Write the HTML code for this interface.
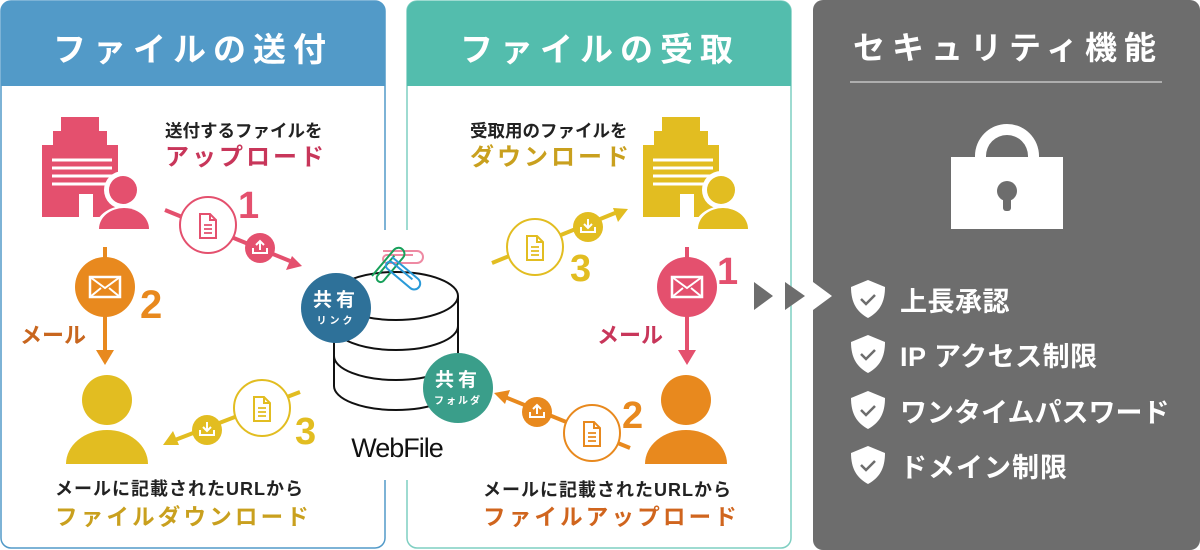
<!DOCTYPE html>
<html><head><meta charset="utf-8"><style>
html,body{margin:0;padding:0;background:#fff;}
svg{display:block;}
text{font-family:"Liberation Sans","Noto Sans CJK JP",sans-serif;font-weight:bold;}
</style></head><body>
<svg width="1200" height="550" viewBox="0 0 1200 550" xmlns="http://www.w3.org/2000/svg">
<defs>
<g id="doc"><path d="M-8,-12 h10 l6,6 v18 h-16 z" fill="none" stroke-width="2"/><path d="M2,-12 v6 h6" fill="none" stroke-width="2"/><path d="M-4,-1 h8 M-4,3 h8 M-4,7 h8" stroke-width="1.8"/></g>
<g id="up"><path d="M-7,0 v5 h14 v-5" fill="none" stroke="#fff" stroke-width="2"/><path d="M0,2 v-9 M-4,-3 l4,-4 l4,4" fill="none" stroke="#fff" stroke-width="2"/></g>
<g id="down"><path d="M-7,0 v5 h14 v-5" fill="none" stroke="#fff" stroke-width="2"/><path d="M0,-8 v9 M-4,-3 l4,4 l4,-4" fill="none" stroke="#fff" stroke-width="2"/></g>
<g id="mail"><rect x="-15" y="-10" width="30" height="20" fill="none" stroke="#fff" stroke-width="2.5"/><path d="M-15,-10 l15,11 l15,-11 M-15,10 l11,-9 M15,10 l-11,-9" fill="none" stroke="#fff" stroke-width="2"/></g>
<g id="shield"><path d="M0,-19 l17,7 c0,16 -6,25 -17,31 c-11,-6 -17,-15 -17,-31 z" fill="#fff"/><path d="M-7,0 l5,5 l9,-9" fill="none" stroke="#6d6d6d" stroke-width="2.5"/></g>
<g id="clip"><path d="M0,0 h34 a6,6 0 0 1 0,12 h-30 a4,4 0 0 1 0,-8 h26" fill="none" stroke-width="2"/></g>
</defs>

<rect x="1" y="1" width="384" height="547" rx="10" fill="#fff" stroke="#529ac8" stroke-width="1.5"/>
<path d="M1,86 V11 a10,10 0 0 1 10,-10 H375 a10,10 0 0 1 10,10 V86 z" fill="#529ac8"/>
<text x="193" y="61" font-size="33" fill="#fff" text-anchor="middle" letter-spacing="7">ファイルの送付</text>

<rect x="407" y="1" width="384" height="547" rx="10" fill="#fff" stroke="#7fcfc2" stroke-width="1.5"/>
<path d="M407,86 V11 a10,10 0 0 1 10,-10 H781 a10,10 0 0 1 10,10 V86 z" fill="#53bdad"/>
<text x="600" y="61" font-size="33" fill="#fff" text-anchor="middle" letter-spacing="7">ファイルの受取</text>

<rect x="813" y="0" width="387" height="550" rx="10" fill="#6d6d6d"/>
<text x="1008" y="59" font-size="32" fill="#fff" text-anchor="middle" letter-spacing="7">セキュリティ機能</text>
<line x1="850" y1="82" x2="1162" y2="82" stroke="#c4c4c4" stroke-width="1.5"/>
<path d="M975,160 v-4 a32,32 0 0 1 64,0 v4 h-11 v-4 a21,21 0 0 0 -42,0 v4z" fill="#fff"/>
<rect x="951" y="157" width="112" height="72" fill="#fff"/>
<circle cx="1007" cy="191" r="10" fill="#6d6d6d"/><rect x="1003" y="191" width="8" height="20" rx="3" fill="#6d6d6d"/>
<path d="M813,282 l19,14 l-19,14z" fill="#fff"/>
<path d="M754,282 l19,14 l-19,14z" fill="#6d6d6d"/>
<path d="M785,282 l20,14 l-20,14z" fill="#6d6d6d"/>
<use href="#shield" x="868" y="299"/><text x="900" y="311" font-size="27" fill="#fff" letter-spacing="0.5">上長承認</text>
<use href="#shield" x="868" y="354"/><text x="900" y="366" font-size="27" fill="#fff" letter-spacing="0.5">IP アクセス制限</text>
<use href="#shield" x="868" y="410"/><text x="900" y="422" font-size="27" fill="#fff">ワンタイムパスワード</text>
<use href="#shield" x="868" y="465"/><text x="900" y="477" font-size="27" fill="#fff" letter-spacing="1">ドメイン制限</text>

<path d="M42,217 V145 h11 v-14 h8 v-14 h38 v14 h8 v14 h11 v72 z" fill="#e4506e"/>
<path d="M52,160 h60 M52,168 h60 M52,176 h60 M52,184 h60" stroke="#fff" stroke-width="3"/>
<rect x="79" y="194" width="14" height="23" fill="#fff"/>
<circle cx="123" cy="190" r="19" fill="#fff"/>
<path d="M95,230 a29,24 0 0 1 58,0z" fill="#fff"/>
<circle cx="123" cy="190" r="14" fill="#e4506e"/>
<path d="M99,229 a25,21 0 0 1 50,0z" fill="#e4506e"/>
<text x="165" y="137" font-size="17.5" fill="#222">送付するファイルを</text>
<text x="165" y="165" font-size="24" fill="#c8365a" letter-spacing="3">アップロード</text>
<path d="M165,210 L290,261" stroke="#e4506e" stroke-width="4"/>
<path d="M302,266 l-16,4 l6,-14z" fill="#e4506e"/>
<circle cx="208" cy="225" r="28" fill="#fff" stroke="#e4506e" stroke-width="2"/>
<use href="#doc" x="208" y="226" stroke="#e4506e"/>
<circle cx="260" cy="248" r="15" fill="#e4506e"/><use href="#up" x="260" y="248"/>
<text x="238" y="218" font-size="38" fill="#e4506e">1</text>

<path d="M105,247 V355" stroke="#e8891e" stroke-width="4"/>
<path d="M96,350 h18 l-9,15z" fill="#e8891e"/>
<circle cx="105" cy="287" r="30" fill="#e8891e"/><use href="#mail" x="105" y="287"/>
<text x="140" y="318" font-size="40" fill="#e8891e">2</text>
<text x="20" y="343" font-size="22" fill="#c8661e">メール</text>
<circle cx="107" cy="400" r="25" fill="#e2bd21"/>
<path d="M66,464 a41,34 0 0 1 82,0z" fill="#e2bd21"/>
<path d="M300,392 L175,440" stroke="#e2bd21" stroke-width="4"/>
<path d="M163,445 l10,-14 l6,14z" fill="#e2bd21"/>
<circle cx="262" cy="408" r="28" fill="#fff" stroke="#e2bd21" stroke-width="2"/>
<use href="#doc" x="262" y="409" stroke="#e2bd21"/>
<circle cx="207" cy="430" r="15" fill="#e2bd21"/><use href="#down" x="207" y="430"/>
<text x="295" y="444" font-size="38" fill="#e2bd21">3</text>
<text x="55" y="495" font-size="18" fill="#222" letter-spacing="1">メールに記載されたURLから</text>
<text x="55" y="525" font-size="22.5" fill="#c9a01e" letter-spacing="3.2">ファイルダウンロード</text>

<rect x="372" y="230" width="46" height="250" fill="#fff"/>
<path d="M334,296 V386 a62,24 0 0 0 124,0 V296" fill="#fff" stroke="#111" stroke-width="2"/>
<path d="M334,326 a62,24 0 0 0 124,0 M334,356 a62,24 0 0 0 124,0" fill="none" stroke="#111" stroke-width="2"/>
<ellipse cx="396" cy="296" rx="62" ry="24" fill="#fff" stroke="#111" stroke-width="2"/>
<use href="#clip" stroke="#ee8aa3" transform="translate(383,251)"/>
<use href="#clip" stroke="#17a05a" transform="translate(372,276) rotate(-50)"/>
<use href="#clip" stroke="#2a9ad8" transform="translate(392,257) rotate(40)"/>
<circle cx="336" cy="308" r="35" fill="#2e7199"/>
<text x="336" y="306" font-size="19" fill="#fff" text-anchor="middle" letter-spacing="4">共有</text>
<text x="336" y="324" font-size="10" fill="#fff" text-anchor="middle" letter-spacing="3">リンク</text>
<circle cx="458" cy="388" r="35" fill="#3a9e8a"/>
<text x="458" y="386" font-size="19" fill="#fff" text-anchor="middle" letter-spacing="4">共有</text>
<text x="458" y="404" font-size="10" fill="#fff" text-anchor="middle" letter-spacing="2">フォルダ</text>
<text x="397" y="457" font-size="27" fill="#111" text-anchor="middle" style="font-weight:normal" letter-spacing="-1">WebFile</text>

<text x="470" y="137" font-size="17.5" fill="#222">受取用のファイルを</text>
<text x="470" y="165" font-size="24" fill="#c9a01e" letter-spacing="3">ダウンロード</text>
<path d="M643,217 V145 h11 v-14 h8 v-14 h38 v14 h8 v14 h11 v72 z" fill="#e2bd21"/>
<path d="M653,160 h60 M653,168 h60 M653,176 h60 M653,184 h60" stroke="#fff" stroke-width="3"/>
<rect x="680" y="194" width="14" height="23" fill="#fff"/>
<circle cx="721" cy="190" r="19" fill="#fff"/>
<path d="M694,230 a29,24 0 0 1 58,0z" fill="#fff"/>
<circle cx="721" cy="190" r="14" fill="#e2bd21"/>
<path d="M698,229 a25,21 0 0 1 50,0z" fill="#e2bd21"/>
<path d="M492,263 L615,213" stroke="#e2bd21" stroke-width="4"/>
<path d="M628,209 l-10,13 l-5,-14z" fill="#e2bd21"/>
<circle cx="535" cy="247" r="28" fill="#fff" stroke="#e2bd21" stroke-width="2"/>
<use href="#doc" x="535" y="248" stroke="#e2bd21"/>
<circle cx="588" cy="227" r="15" fill="#e2bd21"/><use href="#down" x="588" y="227"/>
<text x="570" y="281" font-size="38" fill="#e2bd21">3</text>

<path d="M687,247 V355" stroke="#e4506e" stroke-width="4"/>
<path d="M678,350 h18 l-9,15z" fill="#e4506e"/>
<circle cx="687" cy="287" r="30" fill="#e4506e"/><use href="#mail" x="687" y="287"/>
<text x="717" y="284" font-size="38" fill="#e4506e">1</text>
<text x="597" y="343" font-size="22" fill="#c8365a">メール</text>
<circle cx="686" cy="400" r="25" fill="#e8891e"/>
<path d="M645,464 a41,34 0 0 1 82,0z" fill="#e8891e"/>
<path d="M630,448 L505,397" stroke="#e8891e" stroke-width="4"/>
<path d="M494,393 l16,-3 l-5,14z" fill="#e8891e"/>
<circle cx="592" cy="433" r="28" fill="#fff" stroke="#e8891e" stroke-width="2"/>
<use href="#doc" x="592" y="434" stroke="#e8891e"/>
<circle cx="537" cy="412" r="15" fill="#e8891e"/><use href="#up" x="537" y="412"/>
<text x="622" y="428" font-size="38" fill="#e8891e">2</text>
<text x="483" y="496" font-size="18" fill="#222" letter-spacing="1">メールに記載されたURLから</text>
<text x="483" y="525" font-size="22.5" fill="#d0651e" letter-spacing="3.2">ファイルアップロード</text>
</svg>
</body></html>
